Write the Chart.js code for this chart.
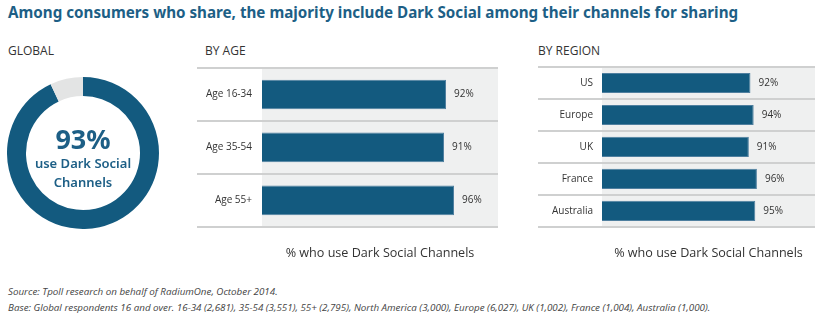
<!DOCTYPE html>
<html>
<head>
<meta charset="utf-8">
<script src="https://cdn.jsdelivr.net/npm/chart.js@4.4.1/dist/chart.umd.min.js"></script>
<style>
  body { margin: 0; background: #fff; width: 838px; height: 321px; position: relative; overflow: hidden; font-family: "Open Sans", sans-serif; }
  .abs { position: absolute; }
  #title { left: 8px; top: 2px; font: bold 15.2px "Noto Sans", sans-serif; color: #1d5f86; white-space: nowrap; }
  .sub { font-size: 12px; color: #333; top: 42px; }
  #center { left: 0; width: 166px; top: 124px; text-align: center; color: #1d5f86; font-family: "Noto Sans", sans-serif; }
  #center .big { font-size: 27px; font-weight: bold; line-height: 30px; }
  #center .small { font-size: 13px; font-weight: 600; line-height: 19px; }
  .foot { left: 8px; font-size: 9.8px; font-style: italic; color: #444; white-space: nowrap; }
</style>
</head>
<body>
<div id="title" class="abs">Among consumers who share, the majority include Dark Social among their channels for sharing</div>
<div class="abs sub" style="left:8px">GLOBAL</div>
<div class="abs sub" style="left:205px">BY AGE</div>
<div class="abs sub" style="left:538px">BY REGION</div>

<div class="abs" style="left:7px; top:77px; width:152px; height:152px"><canvas id="donut"></canvas></div>
<div id="center" class="abs"><div class="big">93%</div><div class="small">use Dark Social<br>Channels</div></div>

<div class="abs" style="left:190px; top:60px; width:320px; height:205px"><canvas id="age"></canvas></div>
<div class="abs" style="left:520px; top:60px; width:318px; height:205px"><canvas id="region"></canvas></div>

<div class="abs foot" style="top:285px">Source: Tpoll research on behalf of RadiumOne, October 2014.</div>
<div class="abs foot" style="top:301px">Base: Global respondents 16 and over. 16-34 (2,681), 35-54 (3,551), 55+ (2,795), North America (3,000), Europe (6,027), UK (1,002), France (1,004), Australia (1,000).</div>

<script>
const globalValues = [93, 7];
const ageLabels = ["Age 16-34", "Age 35-54", "Age 55+"];
const ageValues = [92, 91, 96];
const regionLabels = ["US", "Europe", "UK", "France", "Australia"];
const regionValues = [92, 94, 91, 96, 95];
const axisTitle = "% who use Dark Social Channels";

const blue = "#135a7f";
const font = "'Open Sans', sans-serif";

new Chart("donut", {
  type: "doughnut",
  data: {
    labels: ["Dark Social", "Other"],
    datasets: [{ data: globalValues, backgroundColor: [blue, "#e3e4e4"], borderWidth: 0 }],
  },
  options: {
    animation: false,
    responsive: true,
    maintainAspectRatio: false,
    cutout: "75%",
    plugins: { legend: { display: false }, tooltip: { enabled: false } },
  },
});

// grey plot background + value labels next to the bars
var barExtras = {
  id: "barExtras",
  beforeDraw: (chart) => {
    var a = chart.chartArea;
    var ctx = chart.ctx;
    ctx.save();
    ctx.fillStyle = "#eff0f0";
    ctx.fillRect(a.left, a.top, a.right - a.left, a.bottom - a.top);
    ctx.restore();
  },
  afterDatasetsDraw: (chart) => {
    var ctx = chart.ctx;
    var ds = chart.data.datasets[0];
    ctx.save();
    ctx.font = "10px " + font;
    ctx.fillStyle = "#333";
    ctx.textBaseline = "middle";
    chart.getDatasetMeta(0).data.forEach((bar, i) => {
      ctx.fillText(ds.data[i] + "%", bar.x + 8, bar.y);
    });
    ctx.restore();
  },
};

function makeBars(id, labels, values, opt) {
  return new Chart(id, {
    type: "bar",
    data: {
      labels: labels,
      datasets: [{
        data: values,
        backgroundColor: blue,
        borderColor: "#4f7f9f",
        borderWidth: 1,
        barPercentage: opt.barPct,
        categoryPercentage: 1,
      }],
    },
    plugins: [barExtras],
    options: {
      indexAxis: "y",
      animation: false,
      responsive: true,
      maintainAspectRatio: false,
      layout: { padding: { top: opt.top, right: opt.right, bottom: 0, left: 0 } },
      plugins: { legend: { display: false }, tooltip: { enabled: false } },
      scales: {
        x: {
          min: 0,
          max: opt.max,
          ticks: { display: false },
          grid: { display: false },
          border: { display: false },
          title: {
            display: true,
            text: axisTitle,
            color: "#333",
            font: { family: font, size: 12.6 },
            padding: { top: 11, bottom: 4 },
          },
        },
        y: {
          afterFit: (scale) => { scale.width = opt.axisW; },
          border: { display: false },
          grid: { color: "#cfd0d0", lineWidth: 2, tickLength: opt.tick },
          ticks: { color: "#333", padding: -(opt.tick - opt.gap), font: { family: font, size: 10 } },
        },
      },
    },
  });
}

makeBars("age", ageLabels, ageValues, { barPct: 0.56, max: 118, top: 8, right: 12, axisW: 72, tick: 65, gap: 10 });
makeBars("region", regionLabels, regionValues, { barPct: 0.63, max: 132, top: 7, right: 23, axisW: 82, tick: 64, gap: 9 });
</script>
</body>
</html>
